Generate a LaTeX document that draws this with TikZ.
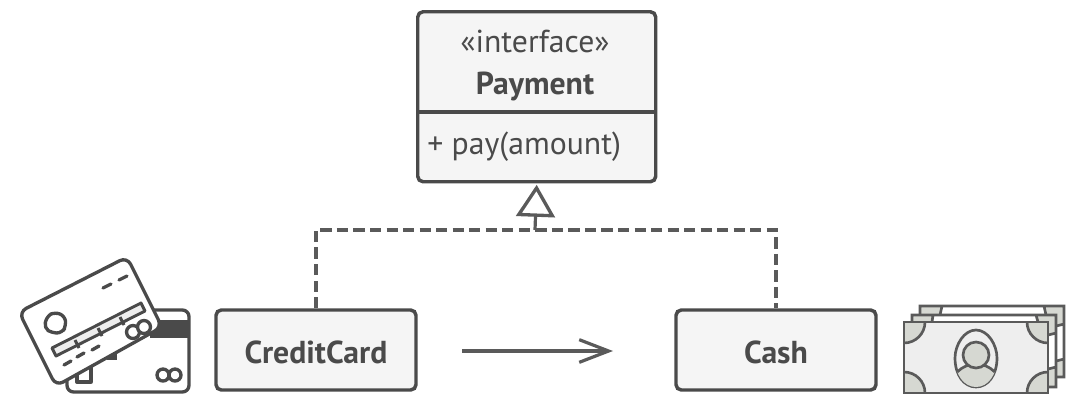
\documentclass[tikz,border=0pt]{standalone}
\usepackage{fontspec}
\setmainfont{PT Sans}
\usetikzlibrary{arrows.meta,calc}
\definecolor{ink}{HTML}{4A4A4A}
\definecolor{linkink}{HTML}{5A5A5A}
\definecolor{boxfill}{HTML}{F5F5F5}
\definecolor{billfill}{HTML}{EEEEEE}
\definecolor{billcorner}{HTML}{D6D8D2}
\tikzset{
  x=0.75pt,y=-0.75pt,
  umlbox/.style={draw=ink,fill=boxfill,line width=2.6pt,rounded corners=4pt,inner sep=0pt,minimum width=150pt,minimum height=60pt,text=ink,font=\fontsize{23.8}{28}\selectfont\bfseries},
  ifacebox/.style={draw=ink,fill=boxfill,line width=2.6pt,rounded corners=4pt},
  lbl/.style={text=ink,inner sep=0pt,font=\fontsize{23.8}{28}\selectfont},
  link/.style={draw=linkink,line width=2.4pt},
  icon/.style={draw=ink,line width=2.5pt,line join=round},
  billstroke/.style={draw=linkink,line width=2pt},
}
\begin{document}
\begin{tikzpicture}
\useasboundingbox (0,0) rectangle (1071,394);
% interface box
\node[ifacebox,minimum width=178.5pt,minimum height=127.5pt,inner sep=0pt,anchor=north west] (payment) at (416,10) {};
\coordinate (divL) at (416,112);
\coordinate (divR) at (654,112);
\draw[draw=ink,line width=2.6pt] (divL) -- (divR);
\node[lbl] (stereo) at (535,41) {«interface»};
\node[lbl,font=\fontsize{23.8}{28}\selectfont\bfseries] (pname) at (535,86) {Payment};
\node[lbl,anchor=west] (pmethod) at (427,147) {+ pay(amount)};
% classes
\node[umlbox,text depth=0pt] (credit) at (316,350) {\raisebox{-3pt}{CreditCard}};
\node[umlbox,text depth=0pt] (cash) at (776,350) {\raisebox{-3pt}{Cash}};
% realisation
\coordinate (bus) at (535,230);
\draw[link,dash pattern=on 8.4pt off 4pt] (credit.north) |- (bus) -| (cash.north);
\draw[link,shorten >=1pt,-{Triangle[open,length=24pt,width=29pt,line width=2.5pt]}] (bus) -- (payment.south);
% association
\coordinate (assocA) at (462,351);
\coordinate (assocB) at (613,351);
\draw[link,-{Straight Barb[length=22pt,width=17pt,line width=2.4pt]}] (assocA) -- (assocB);
% back card
\draw[icon,fill=white,rounded corners=5pt] (67,310) rectangle (189,392);
\fill[ink] (150,320) rectangle (188,338);
\draw[icon] (77,382) rectangle (91,366);
\fill[ink] (107,353) rectangle (117,360);
\draw[icon] (163,375) circle (6);
\draw[icon] (175,375) circle (6);
% front card
\draw[icon,fill=white,rounded corners=6pt] (127,257) -- (162,327) -- (56,386) -- (19,312) -- cycle;
\draw[icon,line width=2.2pt,fill=billfill] (52,348) -- (141,303) -- (145,311) -- (56,356) -- cycle;
\draw[icon,line width=2.2pt] (75,340) -- (79,348) (98,328) -- (102,336) (120,317) -- (124,325);
\draw[icon,line cap=round] (103,288) -- (111,284) (119,280) -- (127,276);
\draw[icon,line cap=round] (64,365) -- (71,361) (77,357) -- (84,353) (92,350) -- (99,346);
\draw[icon,fill=white] (133,332) circle (6.5);
\draw[icon,fill=white] (144,327) circle (6.5);
\draw[icon,fill=white,rounded corners=4pt] (47,316) -- (55,312) -- (65,316) -- (66,326) -- (62,333) -- (52,333) -- (44,328) -- cycle;
% notes (third, second, front)
\draw[billstroke,fill=white] (920,306) rectangle (1064,377);
\fill[billcorner] (920,306) rectangle (942,315);
\fill[billcorner] (1044,306) -- (1064,306) -- (1064,326) -- (1056,326) -- (1056,315) -- (1044,315) -- cycle;
\fill[billcorner] (1056,360) rectangle (1064,377);
\draw[billstroke] (942,306) -- (940,315) (1044,306) -- (1046,315) (1056,326) -- (1064,324) (1056,361) -- (1064,359) (920,306) rectangle (1064,377);
\draw[billstroke,fill=white] (912,315) rectangle (1056,387);
\fill[billcorner] (912,315) rectangle (933,322);
\fill[billcorner] (1036,315) -- (1056,315) -- (1056,335) -- (1048,335) -- (1048,322) -- (1036,322) -- cycle;
\fill[billcorner] (1048,367) rectangle (1056,387);
\draw[billstroke] (933,315) -- (932,322) (1036,315) -- (1038,322) (1048,335) -- (1056,333) (1048,369) -- (1056,367) (912,315) rectangle (1056,387);
\fill[billfill] (904,322) rectangle (1048,393);
\begin{scope}
\clip (904,322) rectangle (1048,393);
\draw[billstroke,fill=billcorner] (904,322) circle (21);
\draw[billstroke,fill=billcorner] (1048,322) circle (21);
\draw[billstroke,fill=billcorner] (904,393) circle (21);
\draw[billstroke,fill=billcorner] (1048,393) circle (21);
\end{scope}
\draw[billstroke] (904,322) rectangle (1048,393);
\draw[billstroke,fill=billfill] (976,330) .. controls (988,330) and (997,345) .. (997,358) .. controls (997,375) and (988,387) .. (976,387) .. controls (964,387) and (955,375) .. (955,358) .. controls (955,345) and (964,330) .. (976,330) -- cycle;
\begin{scope}
\clip (976,330) .. controls (988,330) and (997,345) .. (997,358) .. controls (997,375) and (988,387) .. (976,387) .. controls (964,387) and (955,375) .. (955,358) .. controls (955,345) and (964,330) .. (976,330) -- cycle;
\draw[billstroke,fill=billcorner] (976,390) circle (26);
\end{scope}
\draw[billstroke,fill=billcorner] (976,355) circle (13);
\end{tikzpicture}
\end{document}
